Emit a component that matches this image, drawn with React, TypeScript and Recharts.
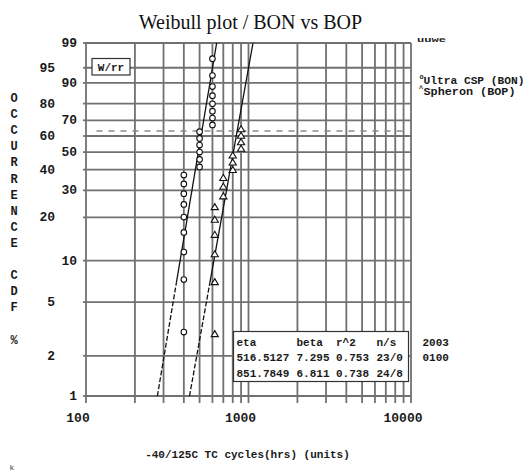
import React from 'react';
import { ComposedChart, Scatter, XAxis, YAxis, CartesianGrid, ReferenceLine } from 'recharts';

const W = 529;
const H = 472;

// ---- data ----
const xTicks = [100, 200, 300, 400, 500, 600, 700, 800, 900, 1000, 2000, 3000, 4000, 5000, 6000, 7000, 8000, 9000, 10000];
const xLabeled = [100, 1000, 10000];
const yTickPct = [1, 2, 5, 10, 20, 30, 40, 50, 60, 70, 80, 90, 95, 99];
const yInnerColumn = [99, 90, 70, 50, 30, 10, 1];

// Ultra CSP (BON) failures: cycles and occurrence (%)
const bonCycles = [400, 400, 400, 400, 400, 400, 400, 400, 400, 500, 500, 500, 500, 500, 500, 600, 600, 600, 600, 600, 600, 600, 600];
const bonPct = [3.0, 7.3, 11.5, 15.8, 20.1, 24.4, 28.6, 32.9, 37.2, 41.5, 45.7, 50.0, 54.3, 58.5, 62.8, 67.1, 71.4, 75.6, 79.9, 84.2, 88.5, 92.7, 97.0];

// Spheron (BOP) failures
const bopCycles = [620, 620, 620, 620, 620, 620, 700, 700, 700, 800, 800, 800, 900, 900, 900, 900];
const bopPct = [2.9, 7.0, 11.1, 15.2, 19.3, 23.4, 27.5, 31.6, 35.7, 39.8, 43.9, 48.0, 52.0, 56.1, 60.2, 64.3];

// fit parameters (from the table)
const tableHeader = ['eta', 'beta', 'r^2', 'n/s'];
const bonRow = ['516.5127', '7.295', '0.753', '23/0'];
const bopRow = ['851.7849', '6.811', '0.738', '24/8'];
const bonEta = 516.5127;
const bonBeta = 7.295;
const bopEta = 851.7849;
const bopBeta = 6.811;
const fitPctLow = 1;
const fitPctBreak = 7;
const fitPctHigh = 99;
const charLifePct = 63.2;

const sideLabel = 'OCCURRENCE CDF %';
const legendItems = ['Ultra CSP (BON)', 'Spheron (BOP)'];
const stampLines = ['2003', '0100'];

// ---- helpers ----
const weib = (p: number) => Math.log(-Math.log(1 - p / 100));
const fitX = (eta: number, beta: number, p: number) => eta * Math.pow(-Math.log(1 - p / 100), 1 / beta);

const bonData = bonCycles.map((x, i) => ({ x, y: weib(bonPct[i]) }));
const bopData = bopCycles.map((x, i) => ({ x, y: weib(bopPct[i]) }));
const fitSeg = (eta: number, beta: number, a: number, b: number) => [
  { x: fitX(eta, beta, a), y: weib(a) },
  { x: fitX(eta, beta, b), y: weib(b) },
];

const yTicks = yTickPct.map(weib);
const MONO = '"Liberation Mono", "DejaVu Sans Mono", monospace';
const GRID = '#707070';
const INK = '#1a1a1a';

const PLOT_TOP = 43;
const PLOT_LEFT = 86;
const PLOT_RIGHT = 411;
const PLOT_BOTTOM = 396;
const X_AXIS_H = 30;

const XTick = (props: any) => {
  const { x, payload } = props;
  if (!xLabeled.includes(payload.value)) return null;
  return (
    <text x={x - 8} y={422} textAnchor="middle" fontFamily={MONO} fontWeight="bold" fontSize={13} fill={INK}>
      {payload.value}
    </text>
  );
};

const YTick = (props: any) => {
  const { y, index } = props;
  const pct = yTickPct[index];
  const inner = yInnerColumn.includes(pct);
  return (
    <text x={inner ? 77 : 55} y={y + 4} textAnchor="end" fontFamily={MONO} fontWeight="bold" fontSize={13} fill={INK}>
      {pct}
    </text>
  );
};

const CircleMark = (props: any) => (
  <circle cx={props.cx} cy={props.cy} r={2.8} fill="#fff" stroke="#111" strokeWidth={1.1} />
);
const TriMark = (props: any) => {
  const { cx, cy } = props;
  return (
    <path d={`M${cx},${cy - 3.5} L${cx + 3.6},${cy + 2.5} L${cx - 3.6},${cy + 2.5} Z`} fill="#fff" stroke="#111" strokeWidth={1.1} />
  );
};
const NoMark = () => <g />;

export default function App() {
  const colX = [236.5, 296.5, 336, 376.5];
  const rowY = [345.5, 360.5, 376.5];
  return (
    <div style={{ position: 'absolute', left: 0, top: 0, width: W, height: H, background: '#fff' }}>
      <ComposedChart
        width={W}
        height={H}
        margin={{ top: PLOT_TOP, right: W - PLOT_RIGHT, bottom: H - PLOT_BOTTOM - X_AXIS_H, left: 0 }}
      >
        <CartesianGrid stroke={GRID} strokeWidth={1.8} horizontalValues={yTicks} verticalValues={xTicks} />
        <XAxis
          type="number"
          dataKey="x"
          scale="log"
          domain={[100, 10000]}
          allowDataOverflow
          ticks={xTicks}
          interval={0}
          height={X_AXIS_H}
          axisLine={false}
          tickLine={{ stroke: GRID, strokeWidth: 1.8 }}
          tickSize={7}
          tick={<XTick />}
        />
        <YAxis
          type="number"
          dataKey="y"
          domain={[weib(1), weib(99)]}
          allowDataOverflow
          ticks={yTicks}
          interval={0}
          width={PLOT_LEFT}
          axisLine={false}
          tickLine={{ stroke: GRID, strokeWidth: 1.8 }}
          tickSize={3}
          tick={<YTick />}
        />
        <ReferenceLine
          segment={[{ x: 116, y: weib(charLifePct) }, { x: 9580, y: weib(charLifePct) }]}
          stroke="#8a8a8a"
          strokeWidth={1.5}
          strokeDasharray="6 6"
          ifOverflow="visible"
        />
        <Scatter data={fitSeg(bonEta, bonBeta, fitPctBreak, fitPctHigh)} line={{ stroke: '#111', strokeWidth: 1.3 }} shape={<NoMark />} isAnimationActive={false} />
        <Scatter data={fitSeg(bonEta, bonBeta, fitPctLow, fitPctBreak)} line={{ stroke: '#111', strokeWidth: 1.3, strokeDasharray: '5 2' }} shape={<NoMark />} isAnimationActive={false} />
        <Scatter data={fitSeg(bopEta, bopBeta, fitPctBreak, fitPctHigh)} line={{ stroke: '#111', strokeWidth: 1.3 }} shape={<NoMark />} isAnimationActive={false} />
        <Scatter data={fitSeg(bopEta, bopBeta, fitPctLow, fitPctBreak)} line={{ stroke: '#111', strokeWidth: 1.3, strokeDasharray: '5 2' }} shape={<NoMark />} isAnimationActive={false} />
        <Scatter data={bonData} shape={<CircleMark />} isAnimationActive={false} />
        <Scatter data={bopData} shape={<TriMark />} isAnimationActive={false} />
      </ComposedChart>

      <svg width={W} height={H} style={{ position: 'absolute', left: 0, top: 0, pointerEvents: 'none' }}>
        <text x={250.5} y={29} textAnchor="middle" fontFamily='"Liberation Serif", "Times New Roman", serif' fontSize={20} fill="#111">
          Weibull plot / BON vs BOP
        </text>

        {/* W/rr box */}
        <rect x={92} y={58.5} width={38} height={16.5} fill="#fff" stroke="#333" strokeWidth={1.2} />
        <text x={111} y={70.5} textAnchor="middle" fontFamily={MONO} fontWeight="bold" fontSize={11} fill={INK}>W/rr</text>

        {/* top right small note */}
        <text x={417} y={42} fontFamily={MONO} fontWeight="bold" fontSize={8} fill="#222" textLength={29} lengthAdjust="spacingAndGlyphs">uuwe</text>

        {/* legend */}
        <text x={419.5} y={78.5} fontFamily={MONO} fontSize={7} fontWeight="bold" fill={INK}>o</text>
        <text x={423.5} y={83.5} fontFamily={MONO} fontWeight="bold" fontSize={10} fill={INK} textLength={101} lengthAdjust="spacingAndGlyphs">{legendItems[0]}</text>
        <text x={419} y={91} fontFamily={MONO} fontSize={7} fontWeight="bold" fill={INK}>^</text>
        <text x={423.5} y={94.5} fontFamily={MONO} fontWeight="bold" fontSize={10} fill={INK} textLength={92} lengthAdjust="spacingAndGlyphs">{legendItems[1]}</text>

        {/* side label */}
        {sideLabel.split('').map((ch, i) => (
          <text key={i} x={14} y={102 + i * 16.1} textAnchor="middle" fontFamily={MONO} fontWeight="bold" fontSize={12} fill={INK}>
            {ch}
          </text>
        ))}

        {/* parameter table */}
        <rect x={233.5} y={331.5} width={175} height={50} fill="#fff" stroke="#333" strokeWidth={1.2} />
        {[tableHeader, bonRow, bopRow].map((row, r) =>
          row.map((cell, c) => (
            <text key={`${r}-${c}`} x={colX[c]} y={rowY[r]} fontFamily={MONO} fontSize={11} fontWeight="bold" fill={INK}>
              {cell}
            </text>
          ))
        )}
        {stampLines.map((s, i) => (
          <text key={s} x={422.5} y={rowY[i]} fontFamily={MONO} fontSize={11} fontWeight="bold" fill={INK}>{s}</text>
        ))}

        {/* x axis title */}
        <text x={247.5} y={458} textAnchor="middle" fontFamily={MONO} fontWeight="bold" fontSize={11} fill={INK}>
          -40/125C TC cycles(hrs) (units)
        </text>
        <text x={12} y={470} textAnchor="middle" fontFamily={MONO} fontSize={8} fill="#444">k</text>
      </svg>
    </div>
  );
}
